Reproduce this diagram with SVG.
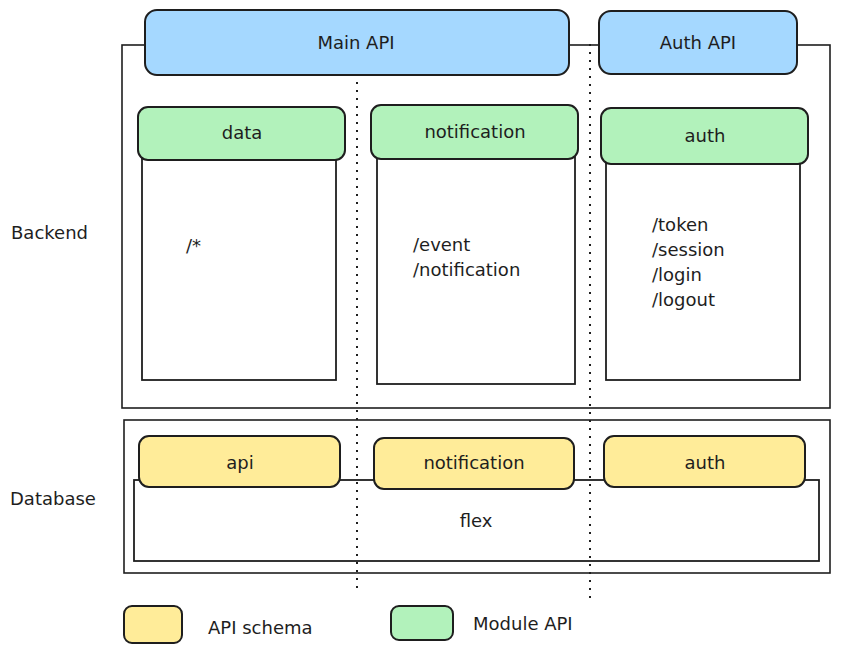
<svg xmlns="http://www.w3.org/2000/svg" width="841" height="653" viewBox="0 0 841 653">
<style>
.frame{fill:#fff;stroke:#1e1e1e;stroke-width:1.6}
.box{fill:#fff;stroke:#1e1e1e;stroke-width:1.8}
.blue{fill:#a5d8ff;stroke:#1e1e1e;stroke-width:2}
.green{fill:#b2f2bb;stroke:#1e1e1e;stroke-width:2}
.yellow{fill:#ffec99;stroke:#1e1e1e;stroke-width:2}
.dash{fill:none;stroke:#1e1e1e;stroke-width:2;stroke-dasharray:2 6}
text{font-family:"DejaVu Sans","Liberation Sans",sans-serif;font-size:18px;fill:#1e1e1e}
.c{text-anchor:middle;dominant-baseline:central}
.l{dominant-baseline:central}
</style>
<rect width="841" height="653" fill="#fff"/>
<g id="backend">
<rect class="frame" x="122" y="45" width="708" height="363"/>
<text class="l" x="11" y="232">Backend</text>
</g>
<g id="database">
<rect class="frame" x="124" y="420" width="706" height="153"/>
<text class="l" x="10" y="498">Database</text>
</g>
<g id="flex">
<rect class="box" x="134" y="480" width="685" height="81"/>
<text class="c" x="476" y="520">flex</text>
</g>
<g id="data-body"><rect class="box" x="142" y="158" width="194" height="222"/><text class="l" x="186" y="245">/*</text></g>
<g id="notification-body"><rect class="box" x="377" y="157" width="198" height="227"/><text class="l" x="413" y="244">/event</text><text class="l" x="413" y="269">/notification</text></g>
<g id="auth-body"><rect class="box" x="606" y="162" width="194" height="218"/><text class="l" x="652" y="224">/token</text><text class="l" x="652" y="249">/session</text><text class="l" x="652" y="274">/login</text><text class="l" x="652" y="299">/logout</text></g>
<g id="connectors">
<line class="dash" x1="357" y1="74" x2="357" y2="590"/>
<line class="dash" x1="590" y1="44" x2="590" y2="598"/>
</g>
<g id="main-api"><rect class="blue" x="145" y="10" width="424" height="65" rx="12"/><text class="c" x="356" y="42">Main API</text></g>
<g id="auth-api"><rect class="blue" x="599" y="11" width="198" height="63" rx="12"/><text class="c" x="698" y="42">Auth API</text></g>
<g id="data"><rect class="green" x="138" y="107" width="207" height="53" rx="10"/><text class="c" x="242" y="132">data</text></g>
<g id="notification"><rect class="green" x="371" y="105" width="207" height="54" rx="10"/><text class="c" x="475" y="131">notification</text></g>
<g id="auth"><rect class="green" x="601" y="108" width="207" height="56" rx="10"/><text class="c" x="705" y="135">auth</text></g>
<g id="api-schema"><rect class="yellow" x="139" y="436" width="201" height="51" rx="10"/><text class="c" x="240" y="462">api</text></g>
<g id="notification-schema"><rect class="yellow" x="374" y="438" width="200" height="51" rx="10"/><text class="c" x="474" y="462">notification</text></g>
<g id="auth-schema"><rect class="yellow" x="604" y="436" width="201" height="51" rx="10"/><text class="c" x="705" y="462">auth</text></g>
<g id="legend-schema"><rect class="yellow" x="124" y="606" width="58" height="37" rx="8"/><text class="l" x="208" y="627">API schema</text></g>
<g id="legend-module"><rect class="green" x="391" y="606" width="62" height="34" rx="8"/><text class="l" x="473" y="623">Module API</text></g>
</svg>
